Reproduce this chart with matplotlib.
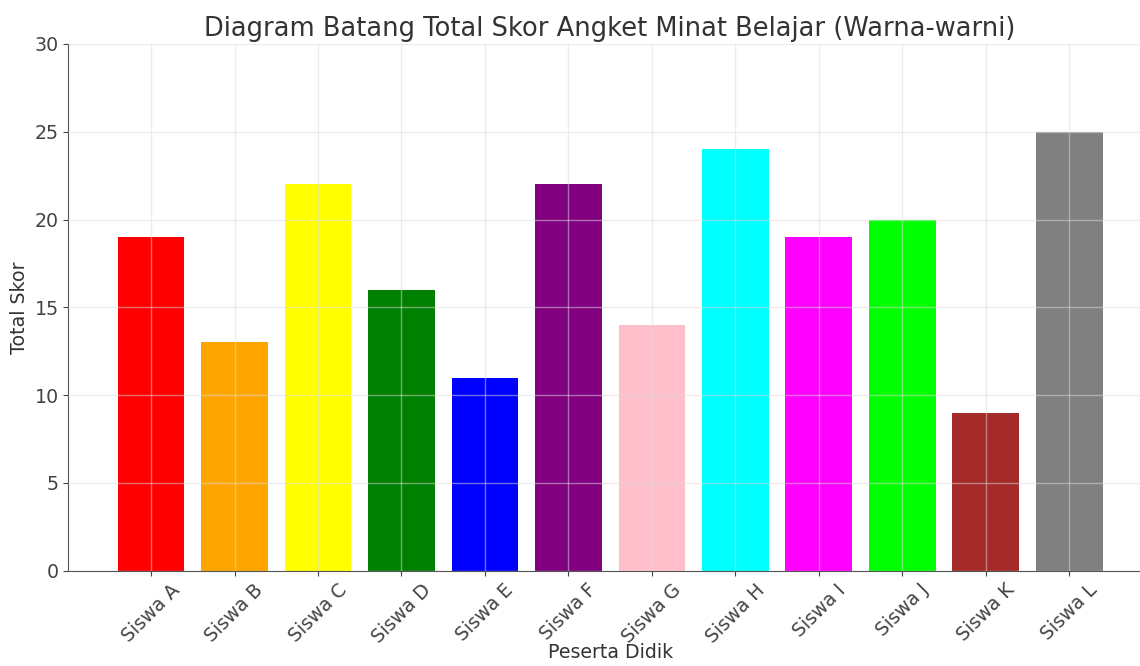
import matplotlib.pyplot as plt

siswa = ['Siswa A', 'Siswa B', 'Siswa C', 'Siswa D', 'Siswa E', 'Siswa F',
         'Siswa G', 'Siswa H', 'Siswa I', 'Siswa J', 'Siswa K', 'Siswa L']
total_skor = [19, 13, 22, 16, 11, 22, 14, 24, 19, 20, 9, 25]
warna = ['red', 'orange', 'yellow', 'green', 'blue', 'purple',
         'pink', 'cyan', 'magenta', 'lime', 'brown', 'gray']

plt.rcParams['font.family'] = 'DejaVu Sans'
fig, ax = plt.subplots(figsize=(11.4, 6.66), dpi=100)
# the reference looks cropped on the right, so the axes run past the edge
fig.subplots_adjust(left=0.06, right=1.0105, top=0.934, bottom=0.143)

ax.bar(siswa, total_skor, color=warna, width=0.8)
ax.set_ylim(0, 30)
ax.set_title('Diagram Batang Total Skor Angket Minat Belajar (Warna-warni)',
             fontsize=18.5, color='#333333', pad=6)
ax.set_xlabel('Peserta Didik', fontsize=13.7, color='#333333', labelpad=-3)
ax.set_ylabel('Total Skor', fontsize=13.7, color='#333333')
ax.tick_params(axis='x', rotation=45, labelsize=13.7, colors='#444444')
ax.tick_params(axis='y', labelsize=13.7, colors='#444444')
for lab in ax.get_xticklabels():
    lab.set_ha('center')

ax.set_axisbelow(False)
ax.grid(True, color='#dddddd', alpha=0.5, linewidth=1)
for s in ['top', 'right']:
    ax.spines[s].set_visible(False)
for s in ['left', 'bottom']:
    ax.spines[s].set_color('#555555')

fig.savefig('out.png')
